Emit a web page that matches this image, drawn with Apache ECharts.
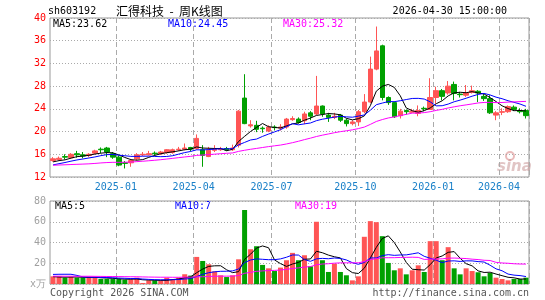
<!DOCTYPE html>
<html>
<head>
<meta charset="utf-8">
<script src="https://cdn.jsdelivr.net/npm/echarts@6/dist/echarts.min.js"></script>
<style>
    html, body { margin: 0; padding: 0; background: #fff; }
    #kline { width: 545px; height: 300px; }
</style>
</head>
<body>
<div id="kline"></div>
<script>
//  周K线: 每根K线一周
var weeks = [
    '2024-10-18', '2024-10-25', '2024-11-01', '2024-11-08', '2024-11-15', '2024-11-22', '2024-11-29', '2024-12-06',
    '2024-12-13', '2024-12-20', '2024-12-27', '2025-01-03', '2025-01-10', '2025-01-17', '2025-01-24', '2025-01-27',
    '2025-02-07', '2025-02-14', '2025-02-21', '2025-02-28', '2025-03-07', '2025-03-14', '2025-03-21', '2025-03-28',
    '2025-04-03', '2025-04-11', '2025-04-18', '2025-04-25', '2025-04-30', '2025-05-09', '2025-05-16', '2025-05-23',
    '2025-05-30', '2025-06-06', '2025-06-13', '2025-06-20', '2025-06-27', '2025-07-04', '2025-07-11', '2025-07-18',
    '2025-07-25', '2025-08-01', '2025-08-08', '2025-08-15', '2025-08-22', '2025-08-29', '2025-09-05', '2025-09-12',
    '2025-09-19', '2025-09-26', '2025-09-30', '2025-10-10', '2025-10-17', '2025-10-24', '2025-10-31', '2025-11-07',
    '2025-11-14', '2025-11-21', '2025-11-28', '2025-12-05', '2025-12-12', '2025-12-19', '2025-12-26', '2025-12-31',
    '2026-01-09', '2026-01-16', '2026-01-23', '2026-01-30', '2026-02-06', '2026-02-13', '2026-02-27', '2026-03-06',
    '2026-03-13', '2026-03-20', '2026-03-27', '2026-04-03', '2026-04-10', '2026-04-17', '2026-04-24', '2026-04-30'
];
var opens = [
    14.9, 15.1, 15.6, 15.4, 16.1, 15.9, 15.8, 16.2, 16.9, 17.1, 16.1, 15.5, 14.5, 14.5, 15.2, 15.9,
    15.9, 16.2, 16.1, 16.3, 16.3, 16.8, 16.9, 17.2, 17.0, 16.8, 15.6, 16.7, 16.8, 17.0, 16.8, 17.6,
    25.9, 21.0, 21.1, 20.6, 20.1, 20.8, 20.6, 20.8, 22.1, 22.2, 21.9, 23.3, 23.1, 24.5, 22.9, 22.5,
    22.9, 22.0, 21.4, 21.7, 23.5, 25.2, 31.0, 35.1, 26.0, 25.1, 22.8, 23.7, 23.4, 23.2, 24.1, 23.9,
    26.0, 27.2, 26.8, 28.3, 26.6, 26.4, 26.9, 27.1, 26.2, 25.8, 22.9, 23.4, 23.5, 24.3, 23.7, 23.7
];
var closes = [
    15.2, 15.3, 15.5, 16.0, 15.9, 15.7, 16.0, 16.6, 16.8, 16.4, 15.5, 14.1, 14.4, 14.9, 15.9, 16.0,
    16.1, 16.1, 16.4, 16.8, 16.8, 16.9, 17.1, 16.9, 18.8, 15.8, 16.7, 16.9, 16.9, 16.8, 17.1, 23.6,
    21.4, 21.2, 20.4, 20.5, 20.8, 20.7, 20.8, 22.2, 22.3, 21.6, 23.1, 22.7, 24.5, 23.1, 22.5, 22.7,
    22.0, 21.4, 21.7, 23.5, 25.2, 31.0, 34.2, 26.0, 25.1, 22.6, 23.6, 23.5, 23.6, 23.7, 24.0, 26.0,
    27.2, 26.2, 28.0, 26.7, 26.5, 26.8, 27.2, 26.8, 25.8, 23.3, 23.3, 23.5, 24.4, 23.9, 23.5, 22.8
];
var lows = [
    14.7, 14.9, 15.1, 15.2, 15.4, 15.3, 15.5, 16.0, 16.2, 15.5, 15.2, 13.9, 13.5, 13.8, 14.9, 15.7,
    15.8, 15.8, 15.9, 16.1, 16.1, 16.6, 16.7, 16.5, 16.8, 13.8, 15.5, 16.4, 16.6, 16.6, 16.6, 17.2,
    21.3, 20.7, 19.9, 19.8, 19.9, 20.2, 20.2, 20.5, 21.9, 21.4, 21.3, 22.0, 22.9, 22.6, 21.7, 22.2,
    21.7, 20.9, 21.1, 21.0, 23.2, 25.0, 30.8, 25.5, 24.7, 22.4, 22.3, 23.0, 23.3, 22.7, 23.6, 23.8,
    24.9, 25.5, 26.5, 25.5, 26.0, 26.1, 26.7, 25.2, 25.4, 23.1, 22.0, 22.9, 23.3, 23.6, 23.2, 22.3
];
var highs = [
    15.5, 15.6, 16.0, 16.2, 16.6, 16.4, 16.2, 16.8, 17.2, 17.3, 16.4, 15.8, 14.8, 15.2, 16.2, 16.4,
    16.6, 16.5, 16.6, 16.9, 17.0, 17.3, 17.9, 17.3, 19.5, 17.6, 17.3, 17.6, 17.3, 17.3, 17.7, 23.8,
    30.1, 22.0, 21.9, 20.9, 21.1, 21.1, 21.3, 22.4, 22.7, 22.5, 23.5, 23.6, 29.8, 24.6, 23.3, 23.3,
    23.1, 22.3, 22.0, 23.8, 26.6, 33.2, 38.5, 35.3, 26.2, 25.3, 24.0, 23.9, 24.0, 24.6, 24.4, 29.4,
    27.9, 27.5, 28.9, 28.8, 27.0, 28.2, 28.1, 27.3, 26.6, 26.4, 23.6, 24.1, 24.6, 24.6, 24.1, 24.0
];
//  成交量（万手）
var volumes = [
    7.4, 7.4, 6.1, 6.8, 6.1, 6.1, 6.8, 6.1, 4.8, 4.8, 4.8, 4.8, 4.2, 4.2, 6.1, 1.0,
    3.5, 3.5, 3.5, 6.1, 4.8, 6.1, 9.4, 8.1, 26.1, 22.2, 19.0, 12.2, 8.4, 6.7, 8.4, 23.8,
    71.3, 33.5, 36.4, 18.4, 15.1, 12.5, 15.8, 22.9, 30.0, 22.9, 27.7, 17.1, 60.0, 22.9, 11.6, 19.6,
    11.6, 8.4, 3.5, 7.4, 45.5, 60.6, 59.6, 46.1, 20.3, 13.2, 15.1, 9.3, 13.2, 18.0, 11.6, 41.3,
    41.3, 22.9, 35.5, 15.1, 9.3, 15.1, 12.5, 11.3, 7.4, 10.6, 6.1, 4.8, 3.5, 4.8, 4.8, 6.1
];
//  窗口之前的29周（从均线起点反推）
var closesBefore = [
    14.0, 14.3, 14.6, 14.8, 14.5, 14.7, 14.4, 14.2, 14.4, 14.3, 14.1,
    14.0, 13.8, 13.7, 13.9, 13.6, 13.5, 13.4, 13.3,
    13.2, 13.2, 13.4, 13.6, 13.8, 14.0, 14.2, 14.8, 14.5, 14.6
];
var volumesBefore = [
    7, 7, 8, 7, 6, 7, 8, 7, 7, 6, 6, 7, 7, 6, 6, 7, 6, 6, 6, 7,
    6, 6, 7, 17, 21, 9, 7, 6, 6
];
var priceTicks = [12, 40, 4];
var volumeTicks = [0, 80, 20];
var quarterMonths = ['01', '04', '07', '10'];

var UP = '#ff5555';
var DOWN = '#00a000';
var MONO = 'DejaVu Sans Mono';

function movingAverage(list, before, n) {
    var all = before.concat(list);
    var out = [];
    for (var i = before.length; i < all.length; i++) {
        var sum = 0;
        for (var k = i - n + 1; k <= i; k++) {
            sum += all[k];
        }
        out.push(Math.round(sum / n * 1000) / 1000);
    }
    return out;
}

//  季度第一周画竖线
function isQuarterStart(index) {
    if (index === 0) return false;
    var m = weeks[index].slice(5, 7);
    return quarterMonths.indexOf(m) > -1 && m !== weeks[index - 1].slice(5, 7);
}

var ma5 = movingAverage(closes, closesBefore, 5);
var ma10 = movingAverage(closes, closesBefore, 10);
var ma30 = movingAverage(closes, closesBefore, 30);
var vma5 = movingAverage(volumes, volumesBefore, 5);
var vma10 = movingAverage(volumes, volumesBefore, 10);
var vma30 = movingAverage(volumes, volumesBefore, 30);
var last = weeks.length - 1;

var kData = weeks.map(function (w, i) {
    return [opens[i], closes[i], lows[i], highs[i]];
});
var volData = weeks.map(function (w, i) {
    return {
        value: volumes[i],
        itemStyle: { color: closes[i] >= opens[i] ? UP : DOWN }
    };
});

function maLine(name, data, color, xi) {
    return {
        name: name,
        type: 'line',
        xAxisIndex: xi,
        yAxisIndex: xi,
        data: data,
        symbol: 'none',
        silent: true,
        lineStyle: { color: color, width: 1 }
    };
}

function label(text, x, y, color, align) {
    return {
        type: 'text',
        x: x,
        y: y,
        style: {
            text: text,
            fill: color,
            font: '10px ' + MONO,
            textAlign: align || 'left',
            textVerticalAlign: 'middle'
        }
    };
}

var dashLine = { color: '#aaaaaa', width: 1, type: [5, 3] };

var chart = echarts.init(document.getElementById('kline'));
var option = {
    animation: false,
    backgroundColor: '#fff',
    grid: [
        { left: 50, right: 16, top: 18, height: 159, show: true, borderColor: '#999', borderWidth: 1 },
        { left: 50, right: 16, top: 201, height: 83, show: true, borderColor: '#999', borderWidth: 1 }
    ],
    xAxis: [
        {
            type: 'category',
            gridIndex: 0,
            data: weeks,
            boundaryGap: true,
            axisLine: { show: false },
            axisTick: { show: false },
            axisLabel: {
                interval: isQuarterStart,
                formatter: function (v) { return v.slice(0, 7); },
                color: '#1a80c8',
                fontFamily: MONO,
                fontSize: 10,
                margin: 5,
                padding: [0, 6, 0, 0]
            },
            splitLine: { show: true, interval: isQuarterStart, lineStyle: dashLine }
        },
        {
            type: 'category',
            gridIndex: 1,
            data: weeks,
            boundaryGap: true,
            axisLine: { show: false },
            axisTick: { show: false },
            axisLabel: { show: false },
            splitLine: { show: true, interval: isQuarterStart, lineStyle: dashLine }
        }
    ],
    yAxis: [
        {
            type: 'value',
            gridIndex: 0,
            min: priceTicks[0],
            max: priceTicks[1],
            interval: priceTicks[2],
            axisLine: { show: false },
            axisTick: { show: false },
            axisLabel: { color: '#ff0000', fontFamily: MONO, fontSize: 10, margin: 4 },
            splitLine: { lineStyle: { color: '#aaaaaa', type: [1, 2] } }
        },
        {
            type: 'value',
            gridIndex: 1,
            min: volumeTicks[0],
            max: volumeTicks[1],
            interval: volumeTicks[2],
            axisLine: { show: false },
            axisTick: { show: false },
            axisLabel: {
                color: '#a0a0a0',
                fontFamily: MONO,
                fontSize: 10,
                margin: 4,
                formatter: function (v) { return v === 0 ? 'x万' : v; }
            },
            splitLine: { lineStyle: { color: '#aaaaaa', type: [1, 2] } }
        }
    ],
    series: [
        {
            name: 'K线',
            type: 'candlestick',
            xAxisIndex: 0,
            yAxisIndex: 0,
            data: kData,
            barWidth: 5,
            itemStyle: {
                color: UP,
                color0: DOWN,
                borderColor: UP,
                borderColor0: DOWN,
                borderWidth: 1
            }
        },
        maLine('MA5', ma5, '#000000', 0),
        maLine('MA10', ma10, '#0000ff', 0),
        maLine('MA30', ma30, '#ff00ff', 0),
        {
            name: '成交量',
            type: 'bar',
            xAxisIndex: 1,
            yAxisIndex: 1,
            data: volData,
            barWidth: 5
        },
        maLine('VMA5', vma5, '#000000', 1),
        maLine('VMA10', vma10, '#0000ff', 1),
        maLine('VMA30', vma30, '#ff00ff', 1)
    ],
    graphic: [
        label('sh603192', 48, 11, '#000'),
        {
            type: 'text',
            x: 116,
            y: 11,
            style: {
                text: '汇得科技  -  周K线图',
                fill: '#000',
                font: '12px "Noto Sans CJK SC"',
                textVerticalAlign: 'middle'
            }
        },
        label('2026-04-30 15:00:00', 507, 11, '#000', 'right'),
        label('MA5:' + ma5[last].toFixed(2), 53, 24, '#000'),
        label('MA10:' + ma10[last].toFixed(2), 168, 24, '#0000ff'),
        label('MA30:' + ma30[last].toFixed(2), 283, 24, '#ff00ff'),
        label('MA5:' + vma5[last].toFixed(0), 55, 206, '#000'),
        label('MA10:' + vma10[last].toFixed(0), 175, 206, '#0000ff'),
        label('MA30:' + vma30[last].toFixed(0), 295, 206, '#ff00ff'),
        label('Copyright 2026 SINA.COM', 50, 293, '#555'),
        label('http://finance.sina.com.cn', 529, 293, '#555', 'right'),
        {
            type: 'circle',
            shape: { cx: 510, cy: 156, r: 4 },
            style: { fill: 'none', stroke: 'rgba(220, 140, 140, 0.6)', lineWidth: 2 }
        },
        {
            type: 'text',
            x: 497,
            y: 160,
            style: {
                text: 'sina',
                fill: 'rgba(200, 150, 150, 0.55)',
                font: 'italic bold 15px "DejaVu Sans"'
            }
        }
    ]
};
chart.setOption(option);
</script>
</body>
</html>
